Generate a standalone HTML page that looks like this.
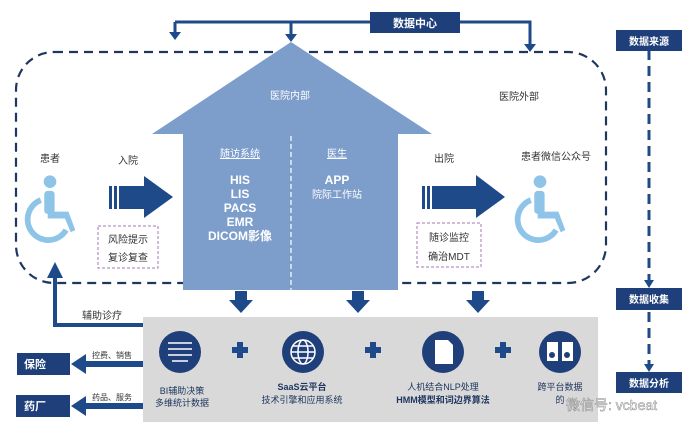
<!DOCTYPE html>
<html><head><meta charset="utf-8"><style>
body{margin:0;background:#fff;}
svg{display:block;font-family:"Liberation Sans","Noto Sans CJK SC",sans-serif;}
</style></head><body>
<svg width="700" height="434" viewBox="0 0 700 434">
<defs>
<g id="wc" fill="#8ec4e8">
<circle cx="0" cy="-22" r="5.5"/>
<rect x="-5" y="-14" width="9" height="20" rx="3"/>
<path d="M-2 4 H16 L22 20 L18 22 L13 10 H-2 Z"/>
<path d="M-8 -6 A18 18 0 1 0 14 20" fill="none" stroke="#8ec4e8" stroke-width="5"/>
</g>
</defs>
<rect x="16" y="52" width="590" height="231" rx="38" fill="none" stroke="#1f3760" stroke-width="2.2" stroke-dasharray="9,6"/>
<path d="M175 22 H530 V45" fill="none" stroke="#1f4a8a" stroke-width="3"/>
<path d="M175 22 V34" stroke="#1f4a8a" stroke-width="3"/>
<path d="M291 22 V36" stroke="#1f4a8a" stroke-width="3"/>
<polygon points="169,32 181,32 175,40" fill="#1f4a8a"/>
<polygon points="285,34 297,34 291,42" fill="#1f4a8a"/>
<polygon points="524,44 536,44 530,52" fill="#1f4a8a"/>
<rect x="370" y="12" width="90" height="21" fill="#1f3f7a"/>
<text x="415" y="27" fill="#fff" font-size="11" font-weight="bold" text-anchor="middle">数据中心</text>
<polygon points="291,42 432,134 398,134 398,290 183,290 183,134 152,134" fill="#7d9dcb"/>
<line x1="291" y1="136" x2="291" y2="290" stroke="#e8eef8" stroke-width="1.5" stroke-dasharray="5,3"/>
<g fill="#fff" font-size="10" text-anchor="middle">
<text x="290" y="99">医院内部</text>
<text x="240" y="157" text-decoration="underline">随访系统</text>
<text x="337" y="157" text-decoration="underline">医生</text>
<g font-weight="bold" font-size="12"><text x="240" y="184">HIS</text><text x="240" y="198">LIS</text><text x="240" y="212">PACS</text><text x="240" y="226">EMR</text><text x="240" y="240">DICOM影像</text><text x="337" y="184">APP</text></g>
<text x="337" y="198">院际工作站</text>
</g>
<g fill="#333" font-size="10" text-anchor="middle">
<text x="50" y="162">患者</text><text x="128" y="164">入院</text>
<text x="444" y="162">出院</text><text x="556" y="160">患者微信公众号</text>
<text x="519" y="100">医院外部</text>
</g>
<use href="#wc" transform="translate(50,207) scale(1.15)"/>
<use href="#wc" transform="translate(540,207) scale(1.15)"/>
<rect x="109" y="186" width="3" height="23" fill="#1f4a8a"/><rect x="114" y="186" width="3" height="23" fill="#1f4a8a"/>
<polygon points="119,186 144,186 144,176 173,197 144,218 144,209 119,209" fill="#1f4a8a"/>
<rect x="422" y="186" width="3" height="23" fill="#1f4a8a"/><rect x="427" y="186" width="3" height="23" fill="#1f4a8a"/>
<polygon points="432,186 476,186 476,175 505,197 476,218 476,209 432,209" fill="#1f4a8a"/>
<rect x="98" y="226" width="60" height="42" fill="none" stroke="#a07ab0" stroke-dasharray="3,2"/>
<text x="128" y="243" font-size="10" fill="#333" text-anchor="middle">风险提示</text>
<text x="128" y="261" font-size="10" fill="#333" text-anchor="middle">复诊复查</text>
<rect x="417" y="223" width="64" height="44" fill="none" stroke="#a07ab0" stroke-dasharray="3,2"/>
<text x="449" y="241" font-size="10" fill="#333" text-anchor="middle">随诊监控</text>
<text x="449" y="260" font-size="10" fill="#333" text-anchor="middle">确治MDT</text>
<line x1="649" y1="50" x2="649" y2="282" stroke="#1f4a8a" stroke-width="3" stroke-dasharray="10,6"/>
<line x1="649" y1="312" x2="649" y2="366" stroke="#1f4a8a" stroke-width="3" stroke-dasharray="10,6"/>
<polygon points="644,280 654,280 649,288" fill="#1f4a8a"/>
<polygon points="644,364 654,364 649,372" fill="#1f4a8a"/>
<rect x="616" y="30" width="66" height="21" fill="#1f3f7a"/>
<rect x="616" y="288" width="66" height="22" fill="#1f3f7a"/>
<rect x="616" y="372" width="66" height="21" fill="#1f3f7a"/>
<g fill="#fff" font-size="10" font-weight="bold" text-anchor="middle">
<text x="649" y="45">数据来源</text><text x="649" y="303">数据收集</text><text x="649" y="387">数据分析</text>
</g>
<g fill="#1f4a8a">
<polygon points="235,291 247,291 247,300 253,300 241,313 229,300 235,300"/>
<polygon points="352,291 364,291 364,300 370,300 358,313 346,300 352,300"/>
<polygon points="472,291 484,291 484,300 490,300 478,313 466,300 472,300"/>
</g>
<path d="M143 325 H55 V276" fill="none" stroke="#1f4a8a" stroke-width="4"/>
<polygon points="47,278 63,278 55,262" fill="#1f4a8a"/>
<text x="102" y="319" font-size="10" fill="#333" text-anchor="middle">辅助诊疗</text>
<rect x="17" y="353" width="53" height="22" fill="#1f3f7a"/>
<rect x="16" y="395" width="54" height="22" fill="#1f3f7a"/>
<text x="35" y="368" fill="#fff" font-size="11" font-weight="bold" text-anchor="middle">保险</text>
<text x="35" y="410" fill="#fff" font-size="11" font-weight="bold" text-anchor="middle">药厂</text>
<rect x="84" y="361" width="60" height="6" fill="#1f4a8a"/>
<polygon points="71,364 86,354 86,374" fill="#1f4a8a"/>
<rect x="84" y="403" width="60" height="6" fill="#1f4a8a"/>
<polygon points="71,406 86,396 86,416" fill="#1f4a8a"/>
<text x="112" y="358" font-size="8" fill="#333" text-anchor="middle">控费、销售</text>
<text x="112" y="400" font-size="8" fill="#333" text-anchor="middle">药品、服务</text>
<rect x="143" y="317" width="455" height="105" fill="#d9d9d9"/>
<g fill="#1f3f7a">
<circle cx="180" cy="352" r="21"/><circle cx="303" cy="352" r="21"/><circle cx="443" cy="352" r="21"/><circle cx="560" cy="352" r="21"/>
</g>
<g stroke="#fff" stroke-width="1.5" fill="none">
<path d="M168 343 H192 M168 349 H192 M168 355 H192 M172 361 H188"/>
<circle cx="303" cy="352" r="12"/><ellipse cx="303" cy="352" rx="5" ry="12"/><path d="M291 352 H315 M293 346 H313 M293 358 H313"/>
</g>
<path d="M435 340 H448 L453 345 V364 H435 Z" fill="#fff"/>
<rect x="547" y="342" width="11" height="19" fill="#fff"/><rect x="562" y="342" width="11" height="19" fill="#fff"/>
<circle cx="552" cy="355" r="3" fill="#1f3f7a"/><circle cx="567" cy="355" r="3" fill="#1f3f7a"/>
<g fill="#1f4a8a">
<rect x="232" y="347" width="16" height="6"/><rect x="237" y="342" width="6" height="16"/>
<rect x="365" y="347" width="16" height="6"/><rect x="370" y="342" width="6" height="16"/>
<rect x="495" y="347" width="16" height="6"/><rect x="500" y="342" width="6" height="16"/>
</g>
<g font-size="9" fill="#1f3760" text-anchor="middle">
<text x="182" y="394">BI辅助决策</text><text x="182" y="406">多维统计数据</text>
<text x="302" y="390" font-weight="bold">SaaS云平台</text><text x="302" y="403">技术引擎和应用系统</text>
<text x="443" y="390">人机结合NLP处理</text><text x="443" y="403" font-weight="bold">HMM模型和词边界算法</text>
<text x="560" y="390">跨平台数据</text><text x="560" y="403">的</text>
</g>
<text x="566" y="410" font-size="14" fill="#fff" stroke="#888" stroke-width="0.5">微信号: vcbeat</text>
</svg>
</body></html>
